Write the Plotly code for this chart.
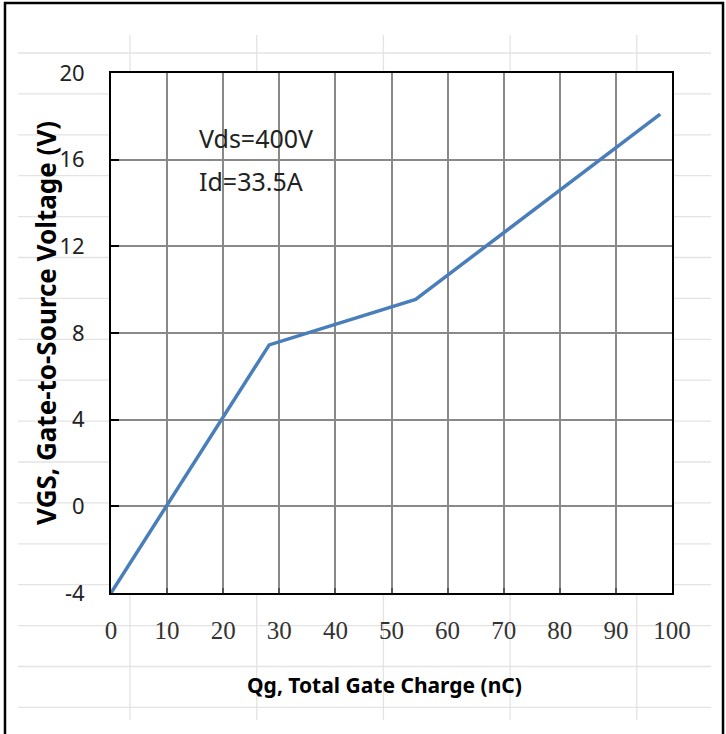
import plotly.graph_objects as go

# ---- data ----
qg_nc = [0, 28.2, 54.3, 97.9]
vgs_v = [-4, 7.45, 9.55, 18.1]
x_ticks = [0, 10, 20, 30, 40, 50, 60, 70, 80, 90, 100]
y_ticks = [-4, 0, 4, 8, 12, 16, 20]
note_lines = ["Vds=400V", "Id=33.5A"]
note_y = [17.0, 15.0]
note_x = 15.3
x_title = "Qg, Total Gate Charge (nC)"
y_title = "VGS, Gate-to-Source Voltage (V)"

W, H = 726, 734
L, R, T, B = 111, 672, 73, 593  # plot area in pixels

def px(xp):
    return (xp - L) / (R - L)

def py(yp):
    return (B - yp) / (B - T)

fig = go.Figure()
fig.add_trace(go.Scatter(
    x=qg_nc, y=vgs_v, mode="lines",
    line=dict(color="#4a7ebb", width=3.5),
    hoverinfo="skip", showlegend=False,
))

shapes = []
faint = dict(color="#e3e3e3", width=1.3)
# spreadsheet-like background grid
for k in range(17):
    yy = 53 + 40.9 * k
    shapes.append(dict(type="line", xref="paper", yref="paper",
                       x0=px(18), x1=px(711), y0=py(yy), y1=py(yy),
                       line=faint, layer="below"))
for k in range(5):
    xx = 130 + 126.7 * k
    shapes.append(dict(type="line", xref="paper", yref="paper",
                       x0=px(xx), x1=px(xx), y0=py(35), y1=py(720),
                       line=faint, layer="below"))
# white plot area covering the background grid
shapes.append(dict(type="rect", xref="paper", yref="paper",
                   x0=0, x1=1, y0=0, y1=1, fillcolor="white",
                   line=dict(width=0), layer="below"))
# outer frame
frame = dict(color="black", width=2.5)
shapes.append(dict(type="line", xref="paper", yref="paper",
                   x0=px(4), x1=px(724), y0=py(3), y1=py(3), line=frame))
shapes.append(dict(type="line", xref="paper", yref="paper",
                   x0=px(5), x1=px(5), y0=py(2), y1=py(734), line=frame))
shapes.append(dict(type="line", xref="paper", yref="paper",
                   x0=px(723), x1=px(723), y0=py(2), y1=py(734), line=frame))

annotations = [
    dict(x=note_x, y=note_y[0], xref="x", yref="y", text=note_lines[0],
         showarrow=False, xanchor="left", yanchor="middle",
         font=dict(family="Noto Sans", size=25, color="#222")),
    dict(x=note_x, y=note_y[1], xref="x", yref="y", text=note_lines[1],
         showarrow=False, xanchor="left", yanchor="middle",
         font=dict(family="Noto Sans", size=25, color="#222")),
    dict(x=px(384), y=py(685), xref="paper", yref="paper", text="<b>" + x_title + "</b>",
         showarrow=False, xanchor="center", yanchor="middle",
         font=dict(family="Noto Sans", size=21, color="black")),
    dict(x=px(46), y=py(323), xref="paper", yref="paper", text="<b>" + y_title + "</b>",
         showarrow=False, xanchor="center", yanchor="middle", textangle=-90,
         font=dict(family="Noto Sans", size=26, color="black")),
]

fig.update_layout(
    width=W, height=H,
    margin=dict(l=L, r=W - R, t=T, b=H - B, pad=0),
    paper_bgcolor="white", plot_bgcolor="white",
    shapes=shapes, annotations=annotations, showlegend=False,
)
fig.update_xaxes(
    range=[0, 100], tickvals=x_ticks, ticktext=[str(v) for v in x_ticks],
    showgrid=True, gridcolor="#898989", gridwidth=2,
    showline=True, linecolor="black", linewidth=2, mirror=True,
    ticks="inside", ticklen=5, tickcolor="#555", tickwidth=2,
    tickfont=dict(family="Liberation Serif", size=25, color="#333"),
    ticklabelstandoff=14, zeroline=False, fixedrange=True,
)
fig.update_yaxes(
    range=[-4, 20], tickvals=y_ticks, ticktext=[str(v) for v in y_ticks],
    showgrid=True, gridcolor="#898989", gridwidth=2,
    showline=True, linecolor="black", linewidth=2, mirror=True,
    ticks="inside", ticklen=8, tickcolor="black", tickwidth=2,
    tickfont=dict(family="Noto Sans", size=22, color="#222"),
    ticklabelstandoff=20, zeroline=False, fixedrange=True,
)

fig.write_html(
    "out.html",
    config={"displayModeBar": False},
    post_script="document.body.style.margin='0';document.body.style.overflow='hidden';",
)
